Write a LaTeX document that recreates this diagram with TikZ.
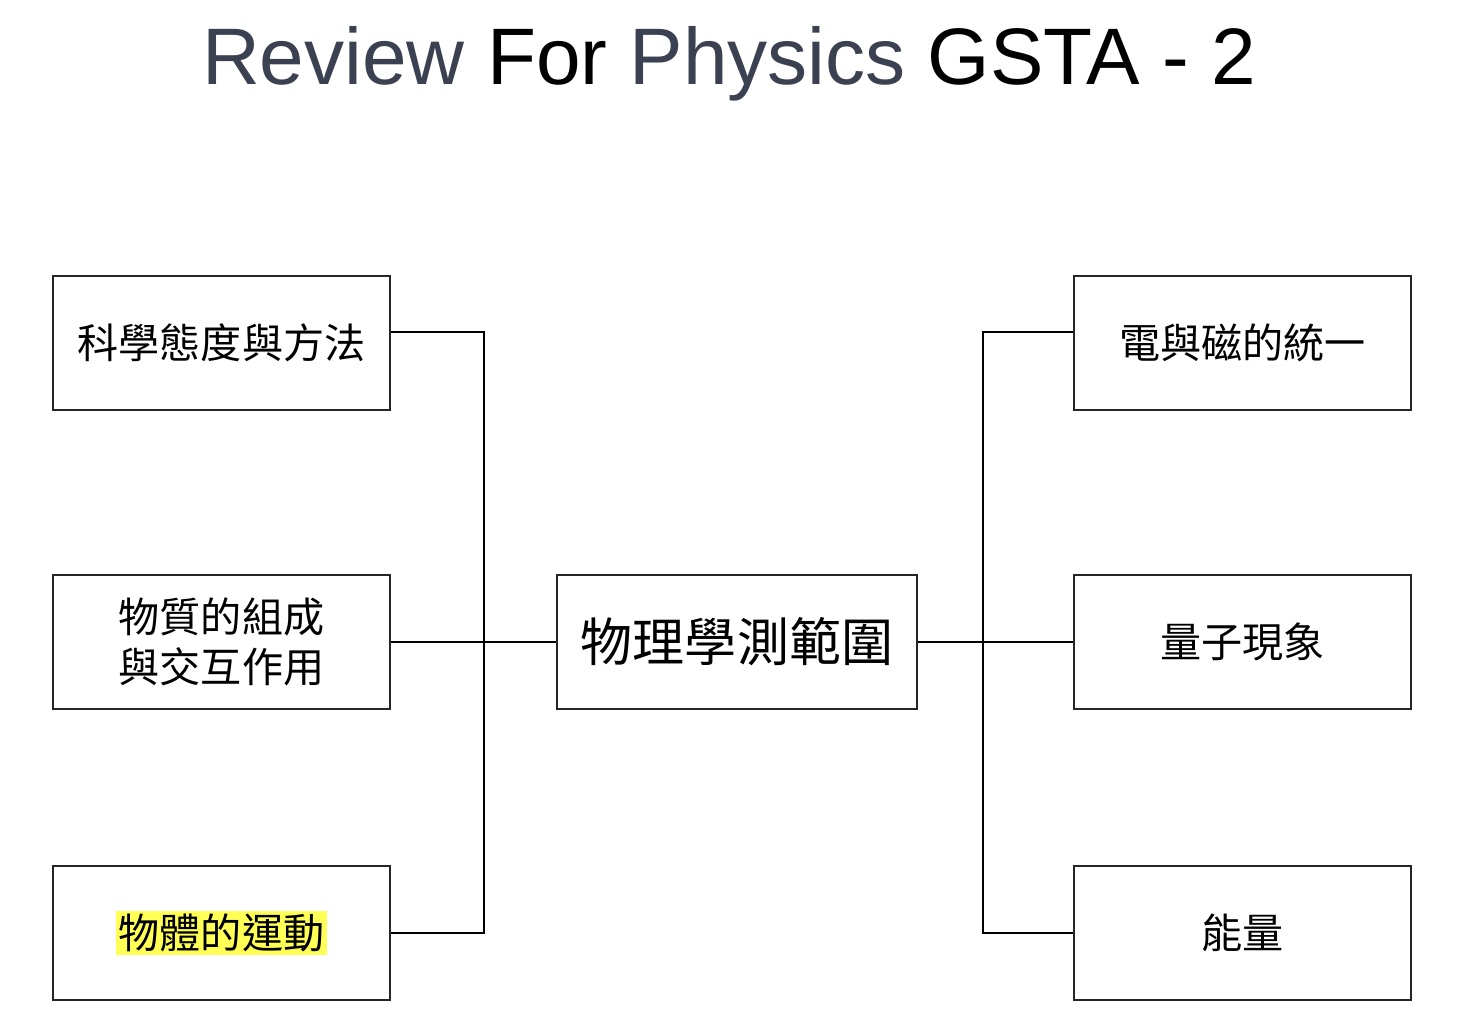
\documentclass[tikz,border=0pt]{standalone}
\usepackage{fontspec}
\usepackage{xcolor,tikz}
\setmainfont{Liberation Sans}
\newfontfamily\cjk{Noto Sans CJK TC}
\definecolor{slatetitle}{HTML}{3B4151}
\definecolor{markyellow}{HTML}{FFFF55}
\newcommand{\marktext}[1]{{\setlength{\fboxsep}{0.7pt}\colorbox{markyellow}{#1}}}

\begin{document}
\begin{tikzpicture}[
  topic/.style={draw=black!85, line width=.6pt, align=center, inner sep=4pt,
    minimum width=3.37cm, minimum height=1.34cm, font=\cjk\fontsize{11.7}{14.2}\selectfont},
  hub/.style={topic, minimum width=3.6cm, font=\cjk\fontsize{14.8}{17}\selectfont},
  link/.style={line width=.6pt, draw=black}]
  \useasboundingbox (0,0) rectangle (14.6,10.14);

  \node[anchor=base, font=\fontsize{22.8}{27}\selectfont] (title) at (7.29,9.29)
    {\textcolor{slatetitle}{Review} For \textcolor{slatetitle}{Physics} GSTA - 2};

  \node[hub] (scope) at (7.37,3.72) {物理學測範圍};

  \node[topic] (method) at (2.215,6.71) {科學態度與方法};
  \node[topic] (matter) at (2.215,3.72) {物質的組成\\與交互作用};
  \node[topic] (motion) at (2.215,0.81) {\marktext{物體的運動}};

  \node[topic] (elecmag) at (12.425,6.71) {電與磁的統一};
  \node[topic] (quantum) at (12.425,3.72) {量子現象};
  \node[topic] (energy) at (12.425,0.81) {能量};

  \coordinate (ltop) at (4.84,6.82);
  \coordinate (lbot) at (4.84,0.81);
  \coordinate (rtop) at (9.83,6.82);
  \coordinate (rbot) at (9.83,0.81);

  \draw[link] (method.east |- ltop) -- (ltop) -- (lbot) -- (motion.east);
  \draw[link] (elecmag.west |- rtop) -- (rtop) -- (rbot) -- (energy.west);
  \draw[link] (matter.east) -- (scope.west);
  \draw[link] (scope.east) -- (quantum.west);
\end{tikzpicture}
\end{document}
